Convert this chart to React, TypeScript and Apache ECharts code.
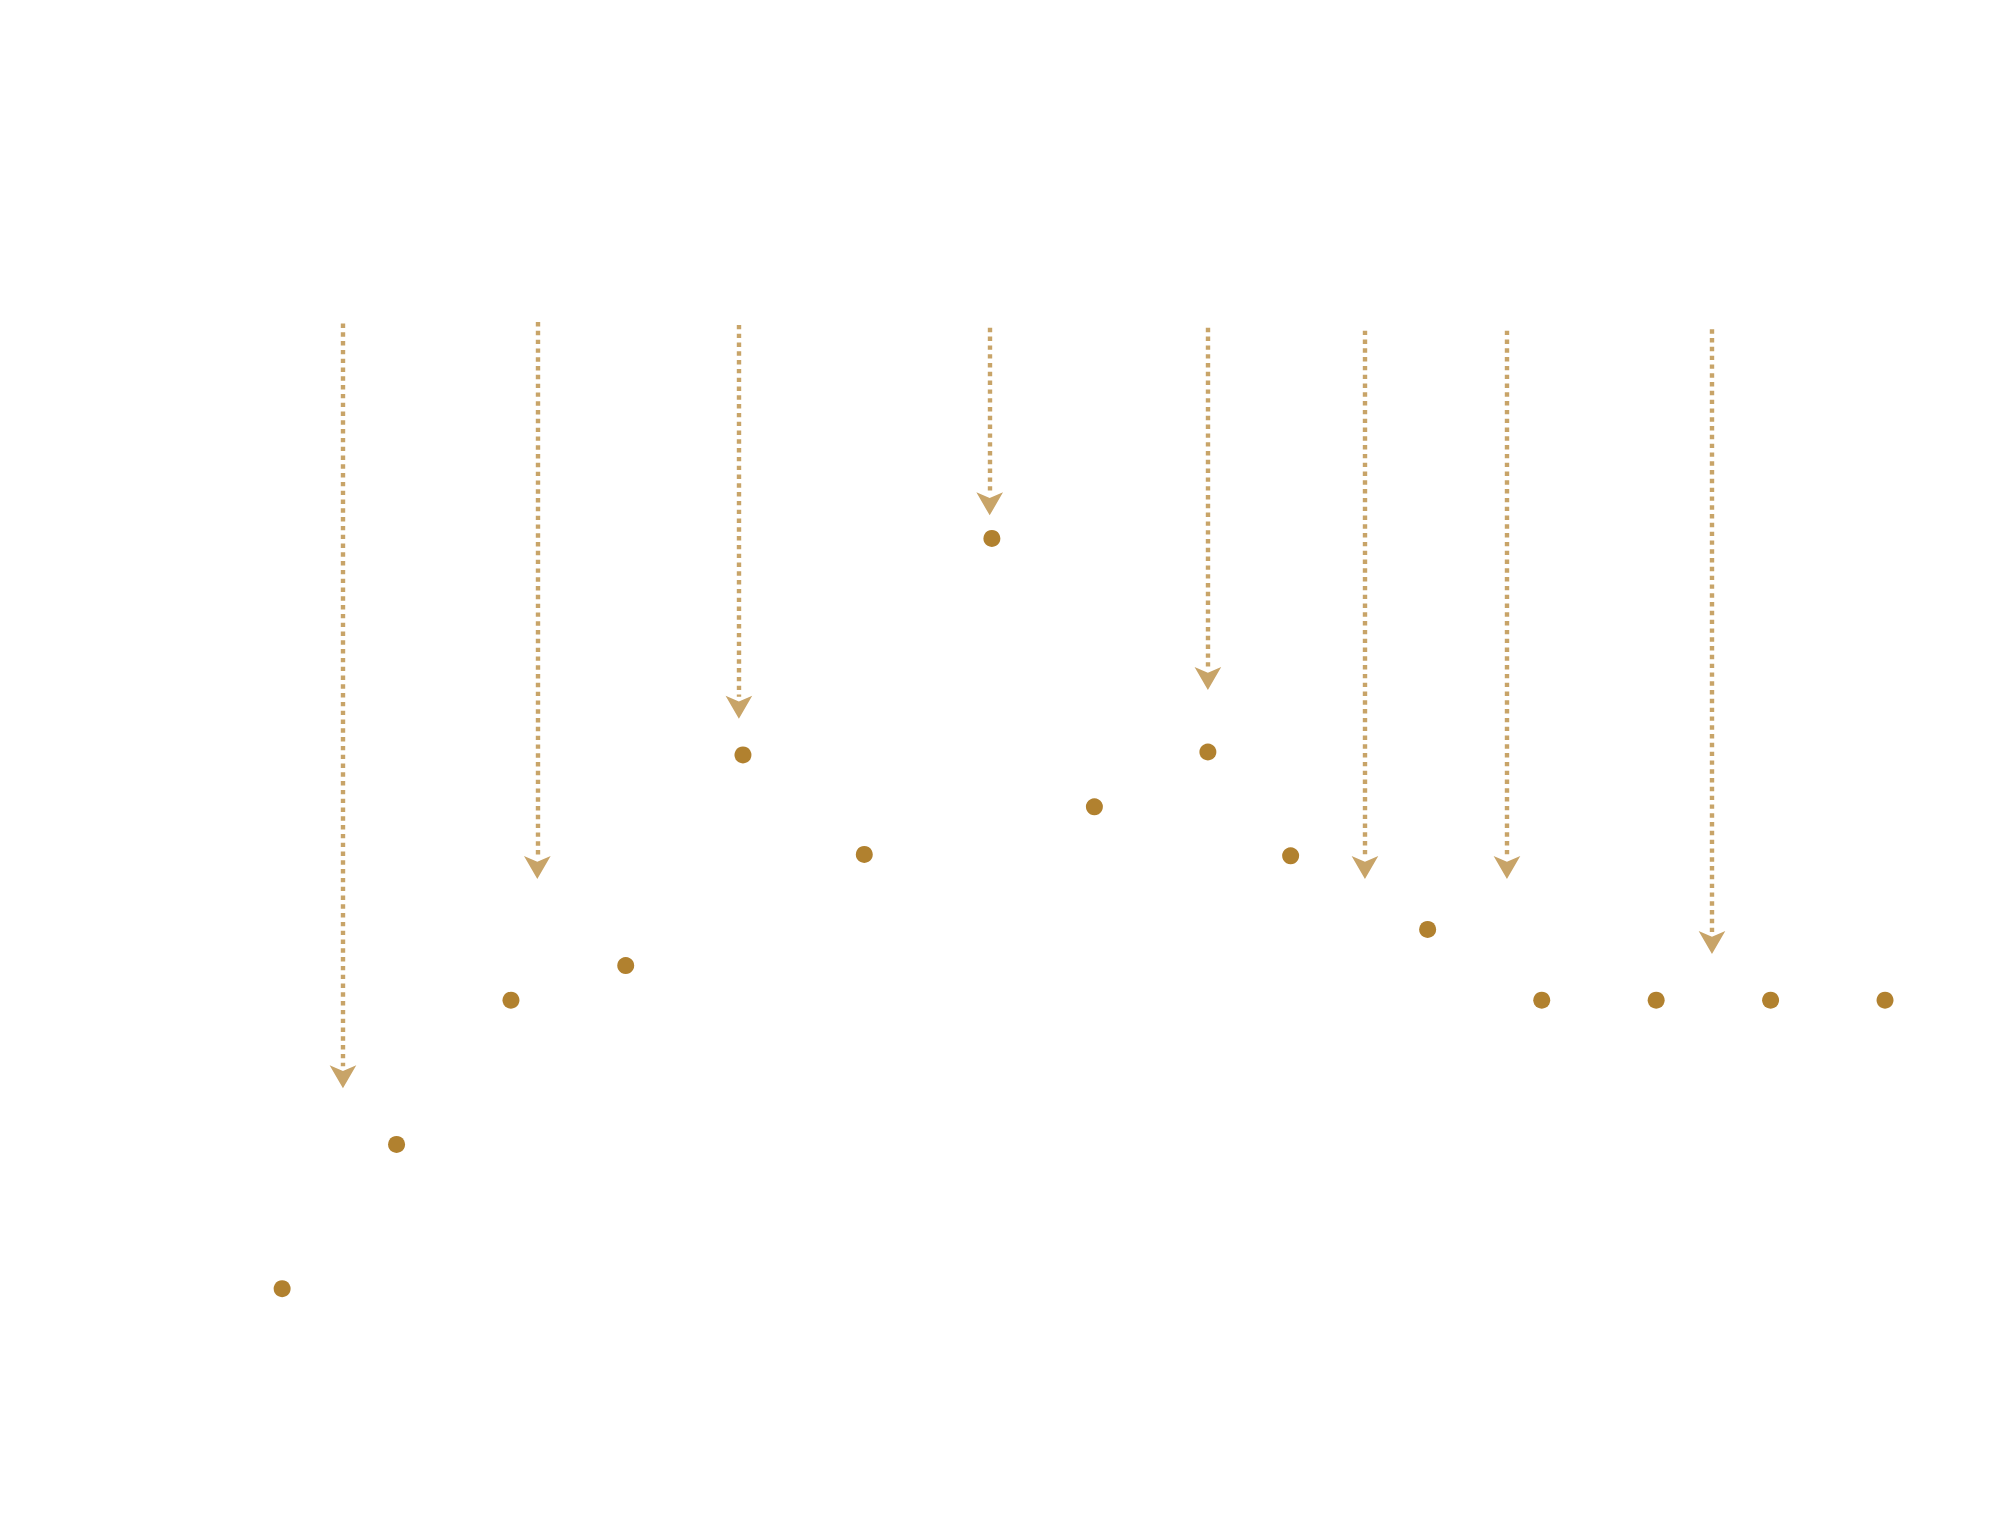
import React, { useEffect, useRef } from "react";
import * as echarts from "echarts";

// ---- data ----
const dates = [
  "2010-01-01", "2011-01-01", "2012-01-01", "2013-01-01", "2014-01-10",
  "2015-02-01", "2016-03-14", "2017-02-04", "2018-02-01", "2018-10-23",
  "2020-01-03", "2021-01-01", "2022-01-01", "2023-01-01", "2024-01-01",
];
const values = [1, 2, 3, 3.24, 4.7, 4.01, 6.2, 4.34, 4.72, 4, 3.49, 3, 3, 3, 3];

// annotation arrows (dotted, pointing down): top of the dotted line and arrow tip
const eventDates = [
  "2010-07-14", "2012-03-25", "2013-12-28", "2016-03-07",
  "2018-02-01", "2019-06-17", "2020-09-12", "2022-06-28",
];
const eventTops = [7.69, 7.7, 7.68, 7.66, 7.66, 7.64, 7.64, 7.65];
const eventTips = [2.39, 3.84, 4.95, 6.36, 5.15, 3.84, 3.84, 3.32];

const axisStart = "2009-06-20";
const axisEnd = "2024-04-12";
const yTickLabels = ["0", "1", "2", "3", "4", "5", "6"];

// ---- styles ----
const GOLD = "#B1812F";
const ARROW_GOLD = "#C8A468";
const WHITE = "#ffffff";
const ARROW_W = 20;
const ARROW_H = 23;

export default function App() {
  const ref = useRef<HTMLDivElement>(null);

  useEffect(() => {
    if (!ref.current) return;
    const chart = echarts.init(ref.current, undefined, { renderer: "svg" });
    const t = (s: string) => +echarts.time.parse(s);

    const H = 1520;
    const left = 221;
    const right = 83;
    const bottom = 87;
    const top = 449;
    const dataMax = Math.max(...values);
    const yMax = dataMax * 1.1;
    const pxPerUnit = (H - bottom - top) / yMax;
    const annMax = 7.8;
    const annTop = H - bottom - annMax * pxPerUnit;

    const seriesData = dates.map((d, i) => [t(d), values[i]]);
    // dotted shaft stops at the back of the arrow head
    const lineData = eventDates.map((d, i) => [
      { coord: [t(d), eventTops[i]] },
      { coord: [t(d), eventTips[i] + (ARROW_H - 1) / pxPerUnit] },
    ]);
    // ECharts' arrow symbol has its tip at the symbol position
    const arrowData = eventDates.map((d, i) => ({
      coord: [t(d), eventTips[i]],
    }));

    const xCommon = {
      type: "time" as const,
      min: t(axisStart),
      max: t(axisEnd),
    };

    chart.setOption({
      animation: false,
      backgroundColor: WHITE,
      grid: [
        { left, right, top, bottom, containLabel: false },
        { left, right, top: annTop, bottom, containLabel: false },
      ],
      xAxis: [
        {
          ...xCommon,
          gridIndex: 0,
          axisLine: {
            show: true,
            lineStyle: { color: WHITE, width: 1 },
            symbol: ["none", "arrow"],
            symbolSize: [26, 34],
          },
          axisTick: { show: false },
          splitLine: { show: false },
          axisLabel: {
            color: WHITE,
            fontSize: 20,
            formatter: (v: number) => String(new Date(v).getFullYear()),
          },
        },
        { ...xCommon, gridIndex: 1, show: false },
      ],
      yAxis: [
        {
          type: "value",
          gridIndex: 0,
          min: 0,
          max: yMax,
          interval: 1,
          axisLine: {
            show: true,
            lineStyle: { color: WHITE, width: 1 },
            symbol: ["none", "arrow"],
            symbolSize: [26, 31],
          },
          axisTick: { show: false },
          splitLine: { show: false },
          axisLabel: {
            color: WHITE,
            fontSize: 22,
            margin: 24,
            showMaxLabel: false,
            formatter: (v: number) => yTickLabels[Math.round(v)] ?? "",
          },
        },
        { type: "value", gridIndex: 1, min: 0, max: annMax, show: false },
      ],
      series: [
        {
          type: "line",
          xAxisIndex: 0,
          yAxisIndex: 0,
          data: seriesData,
          symbol: "circle",
          symbolSize: 17,
          showAllSymbol: true,
          lineStyle: { color: WHITE, width: 2 },
          itemStyle: { color: GOLD },
          emphasis: { disabled: true },
          z: 3,
        },
        {
          type: "line",
          xAxisIndex: 1,
          yAxisIndex: 1,
          data: [],
          silent: true,
          markLine: {
            silent: true,
            symbol: ["none", "none"],
            label: { show: false },
            emphasis: { disabled: true },
            lineStyle: { color: ARROW_GOLD, width: 4.4, type: "dotted", opacity: 1 },
            data: lineData,
          },
          markPoint: {
            silent: true,
            symbol: "arrow",
            symbolSize: [ARROW_W, ARROW_H],
            symbolRotate: 180,
            label: { show: false },
            emphasis: { disabled: true },
            itemStyle: { color: ARROW_GOLD },
            data: arrowData,
          },
          z: 2,
        },
      ],
    });

    return () => chart.dispose();
  }, []);

  return (
    <div
      ref={ref}
      style={{ position: "fixed", left: 0, top: 0, width: 2000, height: 1520 }}
    />
  );
}
